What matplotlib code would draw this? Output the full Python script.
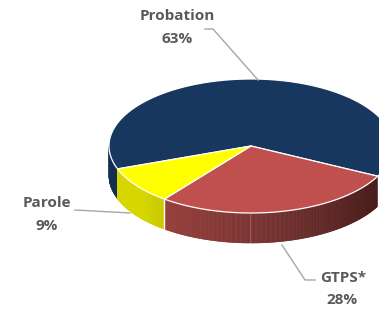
import numpy as np
import matplotlib
matplotlib.use("Agg")
import matplotlib.pyplot as plt
from matplotlib.patches import Polygon

plt.rcParams["font.family"] = ["Open Sans", "DejaVu Sans"]

# data
labels = ["Probation", "GTPS*", "Parole"]
shares = [63, 28, 9]
colors = ["#17375E", "#C0504D", "#FFFF00"]

# pie geometry (pixels)
cx, cy = 251, 146
rx, ry = 142, 67
depth = 30
start_angle = -160  # degrees, slices run clockwise

fig = plt.figure(figsize=(3.79, 3.11), dpi=100)
ax = fig.add_axes([0, 0, 1, 1])
ax.set_xlim(0, 379)
ax.set_ylim(311, 0)
ax.axis("off")


def pt(t, dz=0):
    r = np.radians(t)
    return cx + rx * np.cos(r), cy - ry * np.sin(r) + dz


def shade(t):
    t = ((t + 180) % 360) - 180
    s = 0.84 - (t + 140) / 110 * 0.46
    return min(max(s, 0.36), 0.84)


# slice angles
fracs = np.array(shares) / sum(shares)
bounds = start_angle - np.concatenate([[0], np.cumsum(fracs) * 360])

# side walls (front half only)
for i, c in enumerate(colors):
    base = np.array(matplotlib.colors.to_rgb(c))
    ts = np.linspace(bounds[i], bounds[i + 1], 300)
    for a, b in zip(ts[:-1], ts[1:]):
        if np.sin(np.radians(a)) > 0.001 or np.sin(np.radians(b)) > 0.001:
            continue
        x1, y1 = pt(a)
        x2, y2 = pt(b)
        col = base * shade((a + b) / 2)
        ax.add_patch(Polygon([(x1, y1), (x2, y2), (x2, y2 + depth), (x1, y1 + depth)],
                             closed=True, facecolor=col, edgecolor=col, lw=0.4))

# white vertical edges on the side where slices meet
for b in bounds[1:-1]:
    if np.sin(np.radians(b)) < 0:
        x, y = pt(b)
        ax.plot([x, x], [y, y + depth], color="white", lw=1.0)

# top wedges
for i, c in enumerate(colors):
    ts = np.linspace(bounds[i], bounds[i + 1], 200)
    xs, ys = pt(ts)
    verts = [(cx, cy)] + list(zip(xs, ys))
    ax.add_patch(Polygon(verts, closed=True, facecolor=c,
                         edgecolor="white", lw=0.9, joinstyle="round"))

# labels with leader lines
txt = dict(ha="center", va="center", fontsize=11, fontweight="bold", color="#595959")
lc = "#A6A6A6"
ax.text(177, 16, labels[0], **txt)
ax.text(177, 39, f"{shares[0]}%", **txt)
ax.plot([205, 213, 258], [29, 29, 80], color=lc, lw=1)
ax.text(47, 203, labels[2], **txt)
ax.text(47, 226, f"{shares[2]}%", **txt)
ax.plot([75, 130], [210, 213], color=lc, lw=1)
ax.text(343, 278, labels[1], **txt)
ax.text(342, 300, f"{shares[1]}%", **txt)
ax.plot([315, 305, 282], [280, 280, 245], color=lc, lw=1)

fig.savefig("out.png", dpi=100)
